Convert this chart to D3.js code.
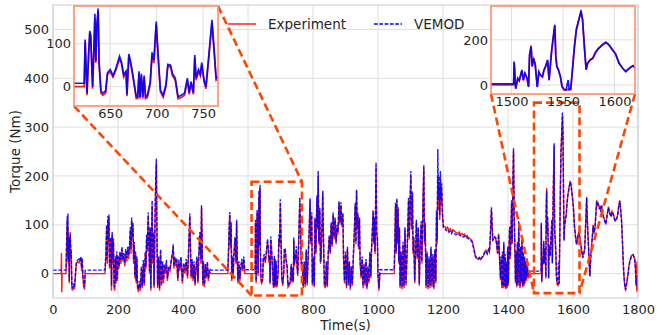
<!DOCTYPE html>
<html>
<head>
<meta charset="utf-8">
<script src="https://cdn.jsdelivr.net/npm/d3@7"></script>
<style>
  body { margin: 0; background: #fff; }
  svg text { font-family: "DejaVu Sans", sans-serif; fill: #262626; }
</style>
</head>
<body>
<svg id="chart" width="657" height="335"></svg>
<script>
// time (s), denser where the insets zoom in
const timeS = [
  0,25,26,27,28,40,42,44,45,46,
  47,49,50,52,53,55,56,58,60,63,
  66,69,72,76,80,83,86,88,90,92,
  94,97,99,160,163,165,167,169,170,172,
  174,176,178,180,182,184,186,188,190,192,
  194,196,198,200,203,206,209,212,215,218,
  221,224,227,230,233,236,238,240,242,244,
  246,248,250,252,254,256,258,260,263,266,
  269,272,275,278,281,284,286,288,290,293,
  295,297,299,301,303,305,307,309,311,313,
  315,317,318,320,322,325,328,331,334,337,
  340,343,346,349,352,356,360,364,368,370,
  372,375,378,381,384,387,390,394,398,402,
  406,410,414,417,419,421,423,425,428,431,
  434,437,440,443,446,449,452,455,457,459,
  461,463,466,469,472,475,478,482,486,538,
  540,542,544,546,548,550,552,554,557,560,
  563,565,567,569,572,575,578,581,584,587,
  590,622,623,625,626.5,628,629,631,632.5,633.5,
  634.5,635.5,637,638,640,642,645,647,650,653,
  656,660,662,664.5,667,668,670,672,674,676,
  678,679.5,681,682,683.5,685,686.5,688,690,693,
  695,697,699.5,700.5,702.5,704,707,710,712,715,
  717,720,723,726.5,730,733,735,737,739.5,741,
  742.5,745,747,748.5,751,753,756,759.5,762,764,
  767,770,773,776,779,782,785,788,791,793,
  796,798,801,804,806,809,812,814,816,818,
  821,823,825,828,830,832,835,838,841,844,
  847,850,853,856,859,862,865,868,871,874,
  877,880,883,886,889,892,894,897,900,903,
  906,909,912,915,918,921,924,927,930,932,
  934,936,938,940,943,945,948,951,954,957,
  960,963,966,969,972,975,978,980,983,985,
  987,989,991,994,996,998,1000,1003,1006,1050,
  1052,1054,1056,1058,1060,1062,1064,1066,1068,1071,
  1074,1077,1080,1083,1086,1089,1092,1094,1096,1098,
  1101,1103,1106,1108,1110,1113,1116,1118,1121,1124,
  1127,1130,1133,1135,1138,1141,1143,1145,1148,1151,
  1154,1157,1160,1163,1166,1169,1172,1175,1178,1180,
  1182,1184,1186,1188,1190,1192,1194,1196,1198,1201,
  1206,1210,1214,1218,1222,1226,1230,1234,1238,1242,
  1246,1250,1254,1258,1262,1266,1270,1274,1278,1282,
  1286,1290,1294,1297,1300,1304,1308,1312,1316,1320,
  1324,1328,1332,1336,1340,1343,1346,1349,1351,1353,
  1356,1359,1362,1365,1368,1371,1374,1377,1379,1381,
  1383,1385,1387,1389,1391,1393,1395,1397,1399,1401,
  1403,1405,1407,1409,1411,1413,1415,1417,1419,1421,
  1423,1425,1427,1429,1431,1433,1435,1437,1439,1441,
  1443,1445,1447,1449,1451,1453,1455,1457,1460,1463,
  1466,1502,1502.5,1504,1506,1507.5,1510,1511.5,1513,1515,
  1516.5,1517.5,1519,1520,1521.5,1523,1525,1526.5,1528,1530,
  1531.5,1533,1535,1536.5,1537.5,1539,1541,1542,1543,1544,
  1545.5,1547.5,1549,1551,1553,1555,1556,1557.5,1559,1561,
  1563,1565.5,1567.5,1569,1571,1572.5,1574,1576.5,1579,1581.5,
  1584,1587.5,1591.5,1594.5,1598,1601,1604.5,1608,1611,1614.5,
  1618,1622,1630,1636,1640,1642,1644,1647,1650,1652,
  1655,1659,1662,1665,1668,1671,1673,1676,1678,1681,
  1683,1686,1688,1691,1693,1697,1701,1705,1709,1713,
  1717,1720,1724,1728,1731,1735,1737,1741,1744,1747,
  1750,1752,1754,1756,1758,1760,1762,1765,1768,1772,
  1775,1780,1785,1790,1792,1794,1795,1796,1797,1798,
  1799,1800
];

// measured torque (Nm)
const experiment = [
  0,0,42,-38,0,0,60,110,30,95,
  20,70,-20,60,85,30,50,-30,-35,-25,
  -32,-5,20,25,22,28,30,5,25,-10,
  -25,-33,0,0,40,95,20,110,60,115,
  10,45,70,-35,80,20,65,-30,-35,30,
  -20,40,-15,30,10,40,20,50,25,35,
  15,45,25,50,30,60,90,40,110,70,
  100,20,60,-10,40,-20,30,-30,-38,-20,
  -35,10,-30,20,-25,40,10,70,45,120,
  60,0,90,-35,50,140,20,80,-30,60,
  150,200,225,60,-30,30,-35,45,-25,20,
  -20,15,0,20,-15,10,5,25,40,55,
  10,30,15,25,-15,20,5,30,-20,15,
  0,25,-10,40,80,118,50,-10,25,-15,
  20,-25,10,30,-20,40,80,20,135,60,
  -25,20,-28,15,-10,20,-15,5,0,0,
  40,90,120,50,100,-15,30,-10,40,70,
  20,105,30,-20,20,-15,10,25,5,30,
  0,0,105,-20,60,125,115,-5,90,160,
  55,135,175,50,-15,-20,-15,28,35,22,
  38,65,55,22,32,-22,70,52,28,0,
  -28,-28,30,-28,25,-28,20,-28,-25,5,
  70,55,145,105,35,-12,-25,0,48,45,
  25,15,-28,-25,-20,15,-18,8,-18,68,
  15,35,25,50,12,-5,65,148,75,15,
  20,-30,20,-28,45,-25,30,80,150,60,
  120,-25,30,-28,110,40,150,90,200,60,
  130,20,30,100,165,80,-25,-30,20,-28,
  40,75,40,100,55,120,70,110,60,95,
  80,145,100,140,95,120,30,-20,40,-30,
  50,-25,20,-33,10,-25,30,80,140,60,
  170,90,120,50,110,20,-10,30,-30,15,
  -25,25,-32,10,-20,40,-10,45,90,125,
  60,110,40,220,80,70,-5,-35,0,0,
  70,140,40,150,60,130,20,90,-30,40,
  -32,60,-30,90,-25,30,100,150,70,130,
  200,90,160,40,70,-20,50,105,30,90,
  -25,60,100,20,130,215,60,100,-30,40,
  -32,30,-30,50,-28,35,-32,45,-20,120,
  60,200,130,180,110,190,140,170,120,98,
  96,92,95,88,92,86,90,88,85,84,
  82,85,80,82,79,81,76,78,74,72,
  70,66,55,45,36,32,30,33,29,34,
  36,44,48,42,50,45,80,130,100,70,
  72,75,72,60,40,82,30,-14,30,-30,
  40,-30,60,-28,35,-32,20,-30,50,-25,
  40,90,30,75,145,60,180,250,120,55,
  -20,40,-28,60,-25,100,20,-30,50,-20,
  70,-28,40,-26,30,-20,20,-15,10,-10,
  0,0,100,-18,28,18,62,20,50,30,
  -10,130,175,85,115,92,-8,55,42,35,
  65,80,108,20,78,150,225,262,130,84,
  68,38,-5,-22,-24,-18,-22,-20,55,165,
  250,292,322,292,158,70,98,112,120,145,
  160,176,190,180,158,140,98,74,60,75,
  86,70,35,50,120,157,110,67,20,-4,
  40,70,100,85,96,130,150,140,143,135,
  137,128,140,125,119,110,103,120,137,125,
  119,128,123,112,109,115,119,140,150,130,
  103,70,34,5,-14,-28,-31,-20,-7,15,
  27,37,39,30,15,-20,20,-35,25,-38,
  15,-30
];

// simulated torque (Nm)
const vemod = [
  7,7,7,7,7,7,65,118,40,123,
  25,75,-15,70,80,40,45,-25,-30,-20,
  -28,0,24,28,30,26,35,12,32,-5,
  -15,-28,7,7,45,100,30,118,70,121,
  15,50,75,-25,85,30,72,-25,-28,35,
  -15,45,-10,38,15,45,28,55,30,42,
  22,50,32,55,38,65,95,50,115,75,
  105,28,65,-5,45,-15,35,-25,-32,-15,
  -30,15,-25,28,-20,45,15,80,50,125,
  65,5,95,-30,60,150,30,85,-25,70,
  160,215,235,70,-25,35,-30,50,-20,25,
  -12,20,7,28,-10,15,12,30,45,60,
  15,35,22,32,-10,28,12,35,-15,22,
  7,30,-5,45,85,123,55,-5,30,-10,
  25,-20,15,35,-15,45,85,30,140,65,
  -20,25,-22,20,-5,25,-10,10,7,7,
  45,95,126,60,106,-10,35,-5,45,75,
  25,110,35,-15,25,-10,15,30,10,35,
  8,8,110,-15,65,130,120,0,95,170,
  60,140,182,60,-10,-15,-10,32,40,26,
  42,71,58,28,36,-18,76,58,32,5,
  -23,-24,36,-24,30,-24,26,-24,-20,10,
  80,62,152,112,42,-8,-20,5,52,50,
  30,20,-24,-20,-15,20,-14,12,-14,74,
  20,40,30,56,16,0,70,156,82,20,
  25,-25,25,-22,50,-20,35,85,154,65,
  125,-20,35,-24,115,45,160,95,210,65,
  135,25,35,105,170,85,-20,-25,25,-24,
  45,78,45,105,60,125,75,115,65,100,
  85,148,105,146,100,125,35,-15,45,-25,
  55,-20,25,-28,15,-20,35,85,145,65,
  172,95,125,55,115,25,-5,35,-25,20,
  -20,30,-28,15,-15,45,-5,50,95,130,
  65,115,45,228,85,75,0,-30,8,8,
  75,145,45,155,65,137,25,95,-25,45,
  -28,65,-25,95,-20,35,105,155,75,135,
  210,95,168,45,75,-15,55,110,35,95,
  -20,65,107,25,135,222,65,105,-25,45,
  -28,35,-25,55,-24,40,-28,50,-15,130,
  70,255,150,200,120,210,150,185,130,94,
  92,88,90,85,87,82,86,83,80,80,
  78,80,77,78,75,77,73,74,71,70,
  67,64,52,42,34,30,29,32,28,33,
  35,43,46,40,48,44,85,136,105,68,
  70,75,74,62,42,80,35,-10,35,-25,
  45,-26,65,-24,40,-28,25,-26,55,-20,
  45,96,35,78,150,65,190,257,125,60,
  -15,45,-24,65,-20,108,25,-26,55,-15,
  75,-24,45,-22,35,-15,25,-10,15,-5,
  5,5,104,-15,30,20,67,22,52,32,
  -7,133,170,81,118,89,-10,59,44,37,
  67,81,111,22,80,155,230,267,126,81,
  67,37,-7,-19,-22,22,-20,-18,59,163,
  244,289,330,289,155,67,96,111,118,141,
  159,173,188,178,155,138,96,74,59,74,
  85,67,32,48,118,155,108,65,18,-6,
  38,72,98,82,95,128,148,142,140,133,
  135,126,138,122,117,108,101,118,135,123,
  116,126,120,110,107,113,117,138,148,128,
  100,68,32,3,-16,-30,-33,-22,-9,13,
  25,36,38,28,10,-25,-10,-20,-25,-28,
  -30,-30
];

const xTicks = [0, 200, 400, 600, 800, 1000, 1200, 1400, 1600, 1800];
const yTicks = [0, 100, 200, 300, 400, 500];
const seriesNames = ["Experiment", "VEMOD"];

// inset windows: time range, torque range, tick values
const inset1X = [611, 766], inset1Y = [-45, 188];
const inset1XTicks = [650, 700, 750], inset1YTicks = [0, 100];
const inset2X = [1480, 1620], inset2Y = [-40, 350];
const inset2XTicks = [1500, 1550, 1600], inset2YTicks = [0, 200];

if (timeS.length !== experiment.length || timeS.length !== vemod.length)
  console.error("length mismatch", timeS.length, experiment.length, vemod.length);

const n = Math.min(timeS.length, experiment.length, vemod.length);
const rows = d3.range(n).map(i => ({ t: timeS[i], e: experiment[i], v: vemod[i] }));

const svg = d3.select("#chart");
const plot = { left: 53, right: 638, top: 5, bottom: 298 };
const gridColor = "#dedede";
const zoomColor = "#ff4500";

const x = d3.scaleLinear([0, 1800], [plot.left, plot.right]);
const y = d3.scaleLinear([-50, 550], [plot.bottom, plot.top]);

// draws a full set of axes (grid, data, frame, ticks) into a box
function drawPanel(id, xs, ys, xt, yt, opts) {
  const g = svg.append("g").attr("id", id);
  const [x0, x1] = xs.range(), [y0, y1] = ys.range();

  g.append("rect")
    .attr("x", x0).attr("y", y1)
    .attr("width", x1 - x0).attr("height", y0 - y1)
    .attr("fill", "#fff");

  g.append("clipPath").attr("id", id + "-clip")
    .append("rect")
    .attr("x", x0).attr("y", y1)
    .attr("width", x1 - x0).attr("height", y0 - y1);

  g.append("g").selectAll("line").data(xt).join("line")
    .attr("x1", d => xs(d)).attr("x2", d => xs(d))
    .attr("y1", y1).attr("y2", y0)
    .attr("stroke", gridColor).attr("stroke-width", 1);
  g.append("g").selectAll("line").data(yt).join("line")
    .attr("x1", x0).attr("x2", x1)
    .attr("y1", d => ys(d)).attr("y2", d => ys(d))
    .attr("stroke", gridColor).attr("stroke-width", 1);

  const [d0, d1] = xs.domain();
  const part = rows.filter((r, i) => {
    const prev = rows[Math.max(0, i - 1)], next = rows[Math.min(rows.length - 1, i + 1)];
    return next.t >= d0 && prev.t <= d1;
  });

  const lines = g.append("g").attr("clip-path", `url(#${id}-clip)`);
  lines.append("path")
    .datum(part)
    .attr("d", d3.line().x(d => xs(d.t)).y(d => ys(d.e)))
    .attr("fill", "none")
    .attr("stroke", "#ff0000")
    .attr("stroke-opacity", 0.9)
    .attr("stroke-width", opts.lw);
  lines.append("path")
    .datum(part)
    .attr("d", d3.line().x(d => xs(d.t)).y(d => ys(d.v)))
    .attr("fill", "none")
    .attr("stroke", "#0000ff")
    .attr("stroke-opacity", 0.9)
    .attr("stroke-width", opts.lw)
    .attr("stroke-dasharray", opts.dash);

  g.append("rect")
    .attr("x", x0).attr("y", y1)
    .attr("width", x1 - x0).attr("height", y0 - y1)
    .attr("fill", "none")
    .attr("stroke", opts.frame)
    .attr("stroke-width", opts.frameWidth);

  const xa = g.append("g")
    .attr("transform", `translate(0,${y0})`)
    .call(d3.axisBottom(xs).tickValues(xt).tickSize(0).tickPadding(opts.xPad).tickFormat(d3.format("d")));
  const ya = g.append("g")
    .attr("transform", `translate(${x0},0)`)
    .call(d3.axisLeft(ys).tickValues(yt).tickSize(0).tickPadding(opts.yPad).tickFormat(d3.format("d")));
  [xa, ya].forEach(a => {
    a.select(".domain").remove();
    a.selectAll("text")
      .attr("font-family", "DejaVu Sans, sans-serif")
      .attr("font-size", 13)
      .attr("fill", "#262626");
  });
  return g;
}

drawPanel("main", x, y, xTicks, yTicks,
  { lw: 1.4, dash: "3.7,1.6", frame: "#cccccc", frameWidth: 1, xPad: 7, yPad: 4 });

// axis titles
svg.append("text")
  .attr("x", (plot.left + plot.right) / 2).attr("y", 330)
  .attr("text-anchor", "middle")
  .attr("font-size", 13.5)
  .text("Time(s)");
svg.append("text")
  .attr("transform", `translate(20,${(plot.top + plot.bottom) / 2}) rotate(-90)`)
  .attr("text-anchor", "middle")
  .attr("font-size", 13.5)
  .text("Torque (Nm)");

// inset scales
const ix1 = d3.scaleLinear(inset1X, [74, 218]);
const iy1 = d3.scaleLinear(inset1Y, [106, 6]);
const ix2 = d3.scaleLinear(inset2X, [491, 635]);
const iy2 = d3.scaleLinear(inset2Y, [94, 6]);

// zoom boxes on the main axes and the connector lines
const zoomLayer = svg.append("g")
  .attr("fill", "none")
  .attr("stroke", zoomColor)
  .attr("stroke-width", 2.6)
  .attr("stroke-dasharray", "8,4");

function zoomBox(xd, yd) {
  zoomLayer.append("rect")
    .attr("x", x(xd[0])).attr("y", y(yd[1]))
    .attr("width", x(xd[1]) - x(xd[0]))
    .attr("height", y(yd[0]) - y(yd[1]));
}
function connector(x1, y1, x2, y2) {
  zoomLayer.append("line")
    .attr("x1", x1).attr("y1", y1)
    .attr("x2", x2).attr("y2", y2);
}
zoomBox(inset1X, inset1Y);
zoomBox(inset2X, inset2Y);
connector(ix1(inset1X[0]), iy1(inset1Y[0]), x(inset1X[0]), y(inset1Y[0]));
connector(ix1(inset1X[1]), iy1(inset1Y[1]), x(inset1X[1]), y(inset1Y[1]));
connector(ix2(inset2X[0]), iy2(inset2Y[0]), x(inset2X[0]), y(inset2Y[0]));
connector(ix2(inset2X[1]), iy2(inset2Y[0]), x(inset2X[1]), y(inset2Y[0]));

drawPanel("inset1", ix1, iy1, inset1XTicks, inset1YTicks,
  { lw: 1.7, dash: null, frame: "#ff8c66", frameWidth: 1.6, xPad: 3, yPad: 3 });
drawPanel("inset2", ix2, iy2, inset2XTicks, inset2YTicks,
  { lw: 1.7, dash: null, frame: "#ff8c66", frameWidth: 1.6, xPad: 3, yPad: 3 });

// legend
const legend = svg.append("g").attr("transform", "translate(228,24)");
const items = legend.selectAll("g").data(seriesNames).join("g")
  .attr("transform", (d, i) => `translate(${i * 146},0)`);
items.append("line")
  .attr("x1", 0).attr("x2", 28)
  .attr("stroke", (d, i) => i === 0 ? "#ff0000" : "#0000ff")
  .attr("stroke-width", 1.3)
  .attr("stroke-dasharray", (d, i) => i === 0 ? null : "3.7,1.6");
items.append("text")
  .attr("x", 40).attr("y", 5)
  .attr("font-size", 13.5)
  .text(d => d);
</script>
</body>
</html>
